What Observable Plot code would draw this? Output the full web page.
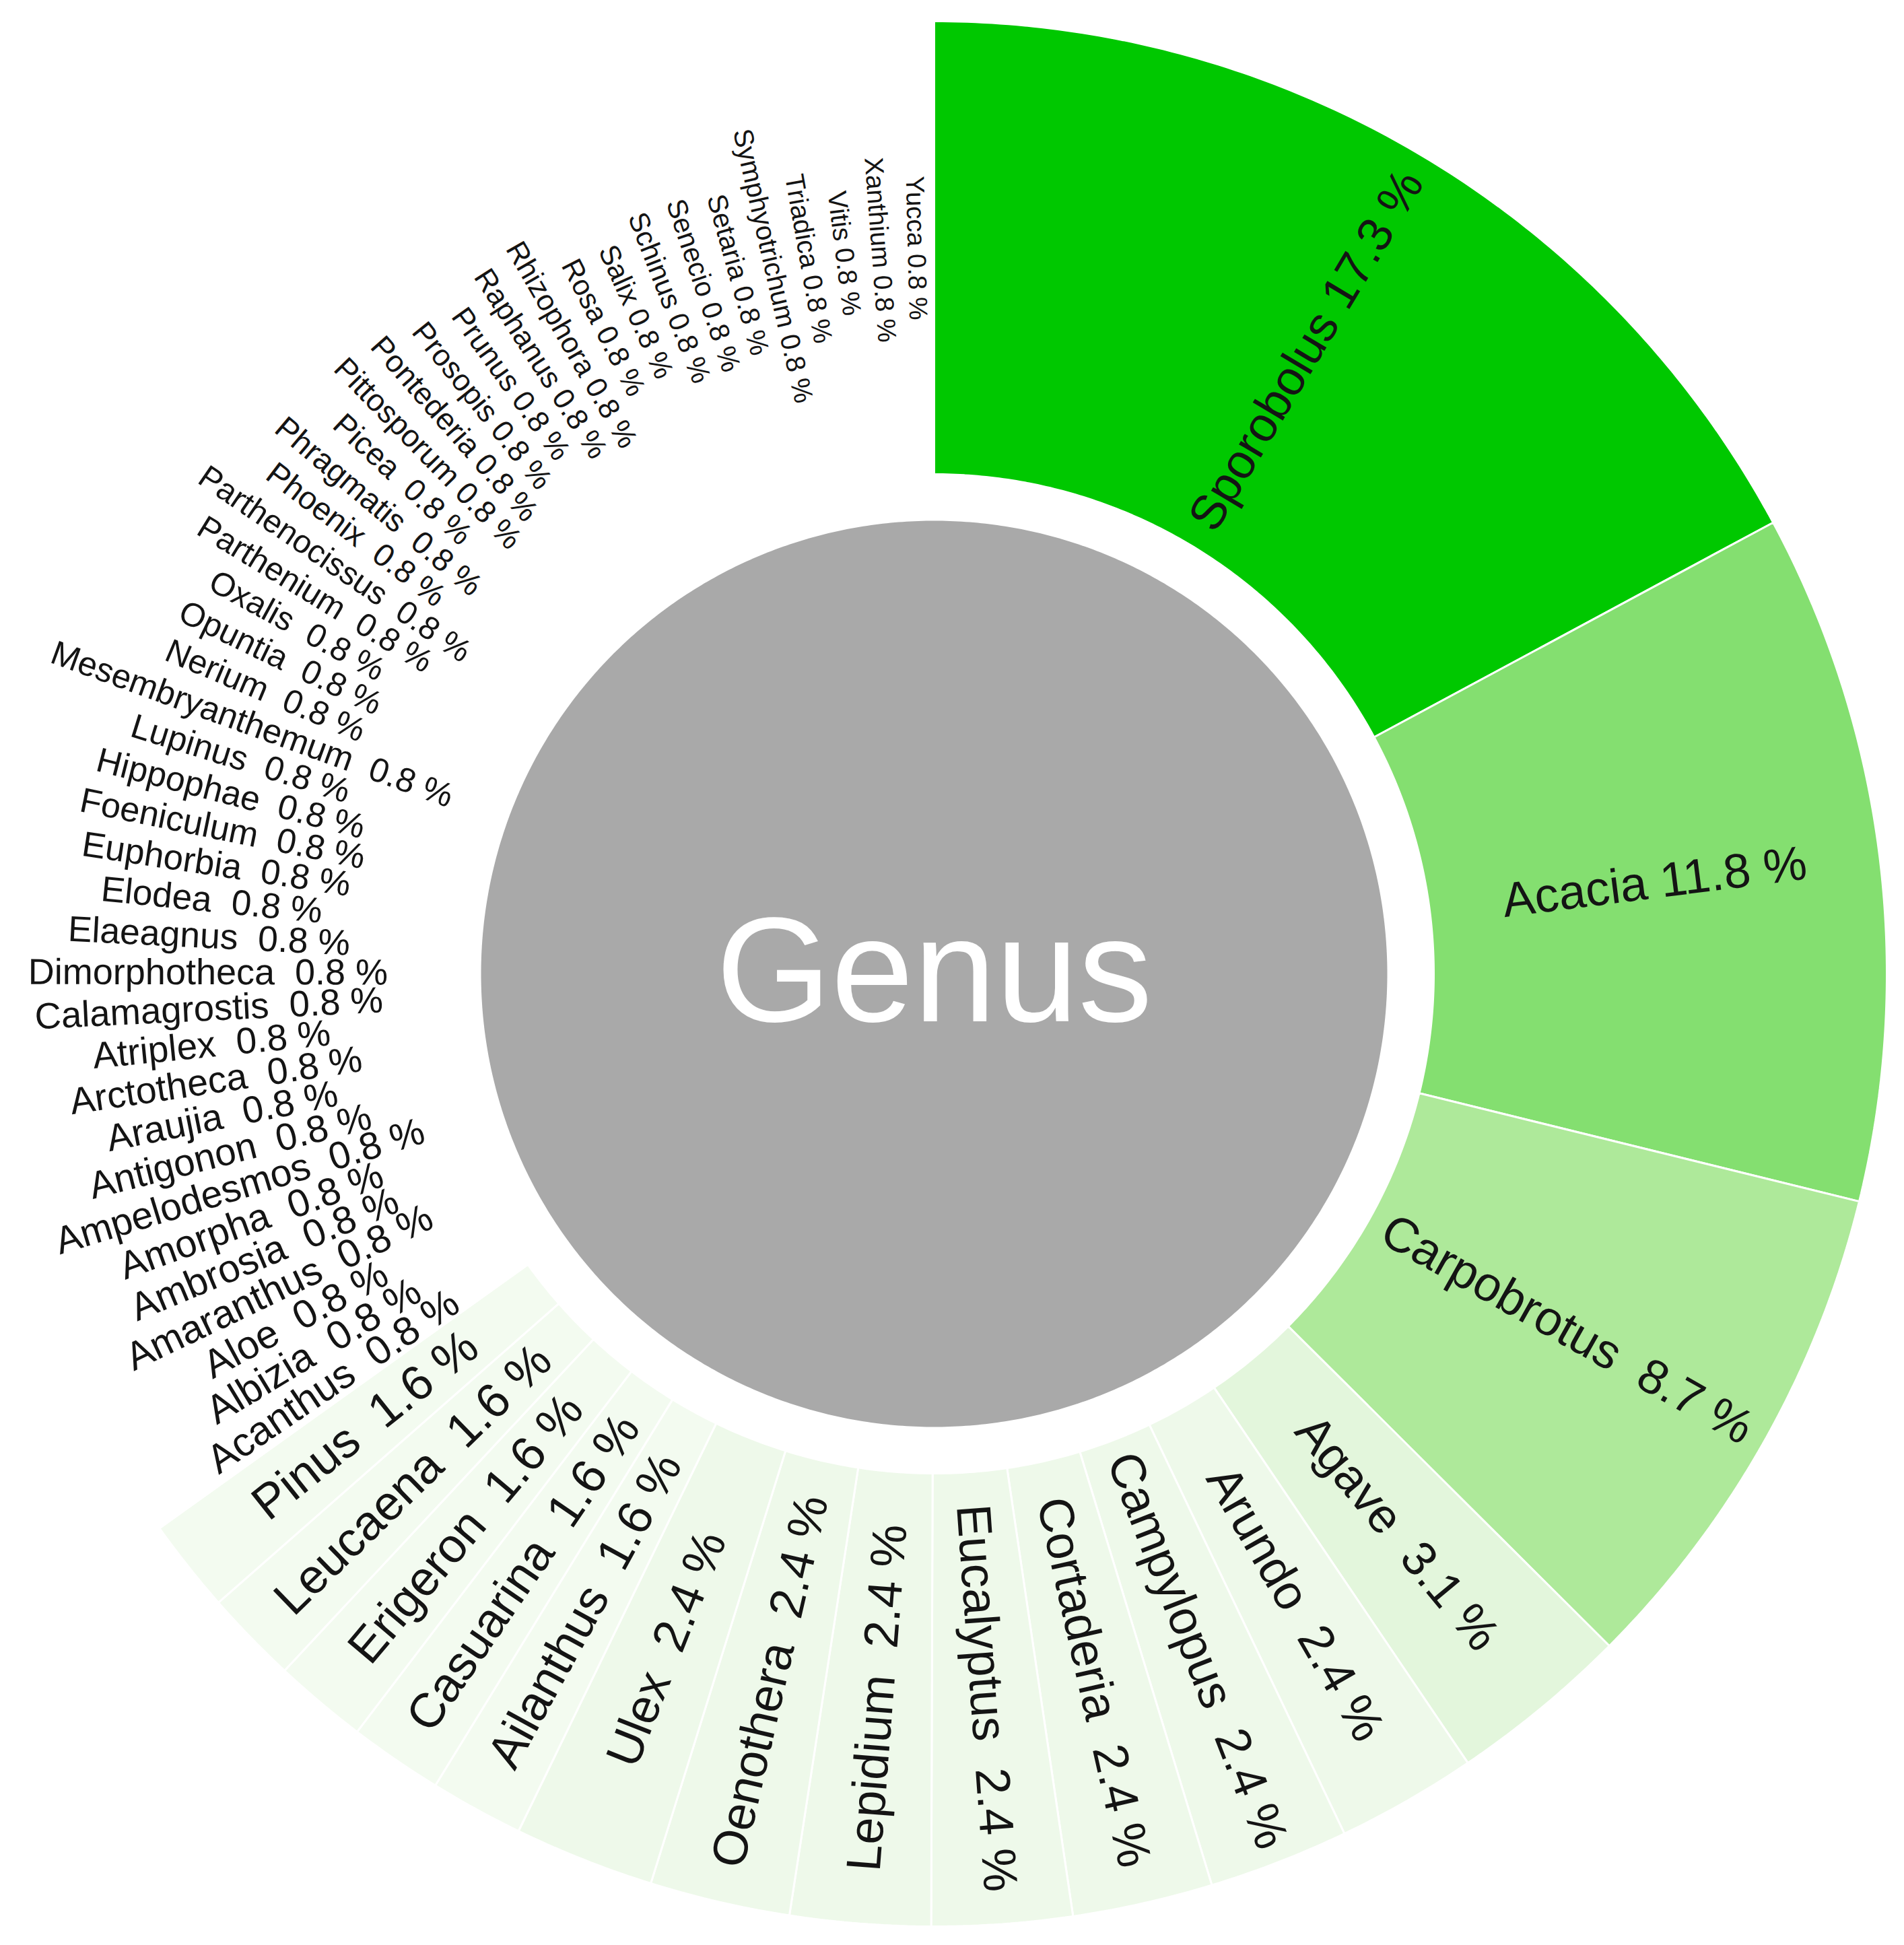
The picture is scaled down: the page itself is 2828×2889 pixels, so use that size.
<!DOCTYPE html>
<html>
<head>
<meta charset="utf-8">
<script src="https://cdn.jsdelivr.net/npm/d3@7"></script>
<script src="https://cdn.jsdelivr.net/npm/@observablehq/plot@0.6"></script>
<style>
html, body { margin: 0; padding: 0; background: #ffffff; }
#chart svg { display: block; }
</style>
</head>
<body>
<div id="chart"></div>
<script>
// ---- data (clockwise from 12 o'clock) ----
const genera = [
  "Sporobolus", "Acacia", "Carpobrotus", "Agave",
  "Arundo", "Campylopus", "Cortaderia", "Eucalyptus", "Lepidium", "Oenothera", "Ulex",
  "Ailanthus", "Casuarina", "Erigeron", "Leucaena", "Pinus",
  "Acanthus", "Albizia", "Aloe", "Amaranthus", "Ambrosia", "Amorpha", "Ampelodesmos",
  "Antigonon", "Araujia", "Arctotheca", "Atriplex", "Calamagrostis", "Dimorphotheca",
  "Elaeagnus", "Elodea", "Euphorbia", "Foeniculum", "Hippophae", "Lupinus",
  "Mesembryanthemum", "Nerium", "Opuntia", "Oxalis", "Parthenium", "Parthenocissus",
  "Phoenix", "Phragmatis", "Picea", "Pittosporum", "Pontederia", "Prosopis", "Prunus",
  "Raphanus", "Rhizophora", "Rosa", "Salix", "Schinus", "Senecio", "Setaria",
  "Symphyotrichum", "Triadica", "Vitis", "Xanthium", "Yucca"
];
const percents = [
  17.3, 11.8, 8.7, 3.1,
  2.4, 2.4, 2.4, 2.4, 2.4, 2.4, 2.4,
  1.6, 1.6, 1.6, 1.6, 1.6,
  0.8, 0.8, 0.8, 0.8, 0.8, 0.8, 0.8,
  0.8, 0.8, 0.8, 0.8, 0.8, 0.8,
  0.8, 0.8, 0.8, 0.8, 0.8, 0.8,
  0.8, 0.8, 0.8, 0.8, 0.8, 0.8,
  0.8, 0.8, 0.8, 0.8, 0.8, 0.8, 0.8,
  0.8, 0.8, 0.8, 0.8, 0.8, 0.8, 0.8,
  0.8, 0.8, 0.8, 0.8, 0.8
];
const centerLabel = "Genus";
const shareLevels = [17.3, 11.8, 8.7, 3.1, 2.4, 1.6, 0.8];
const greens = ["#00c800", "#84df70", "#aee99a", "#e3f6dc", "#eef9ea", "#f3fbf0", "#ffffff"];

// ---- geometry ----
const W = 2828, H = 2889, CX = 1387, CY = 1446;
const R_CENTER = 673, R_IN = 742, R_OUT = 1415;
const R_MID = (R_IN + R_OUT) / 2;

const total = d3.sum(percents);
let acc = 0;
let smallIdx = 0;
const slices = genera.map((g, i) => {
  const a0 = acc / total * 2 * Math.PI;
  acc += percents[i];
  const a1 = acc / total * 2 * Math.PI;
  return {genus: g, value: percents[i], a0, a1, mid: (a0 + a1) / 2, i,
          k: percents[i] < 1 ? smallIdx++ : -1};
});

function ring(s, rIn, rOut) {
  const pts = [];
  const n = Math.max(2, Math.ceil((s.a1 - s.a0) / (Math.PI / 360)));
  for (let j = 0; j <= n; j++) {
    const a = s.a0 + (s.a1 - s.a0) * j / n;
    pts.push({genus: s.genus, value: s.value, x: rOut * Math.sin(a), y: -rOut * Math.cos(a)});
  }
  for (let j = n; j >= 0; j--) {
    const a = s.a0 + (s.a1 - s.a0) * j / n;
    pts.push({genus: s.genus, value: s.value, x: rIn * Math.sin(a), y: -rIn * Math.cos(a)});
  }
  pts.push(pts[0]);
  return pts;
}
const slicePts = slices.flatMap(s => ring(s, R_IN, R_OUT));

const disc = [];
for (let j = 0; j <= 720; j++) {
  const a = j / 720 * 2 * Math.PI;
  disc.push({x: R_CENTER * Math.sin(a), y: -R_CENTER * Math.cos(a)});
}

const deg = r => r * 180 / Math.PI;
const labelRotate = d => {
  const t = deg(d.mid);
  return t < 180 ? t - 90 : t + 90;
};
const labelSize = d => d.value < 1 ? 60 - 0.5 * d.k : 72;
const gap = d => (d.i >= 2 && (d.value > 1 || d.k < 28)) ? "\u00a0 " : " ";
const labelText = d => `${d.genus}${gap(d)}${d.value.toFixed(1)} %`;

const chart = Plot.plot({
  width: W,
  height: H,
  margin: 0,
  x: {domain: [-CX, W - CX], range: [0, W], axis: null},
  y: {domain: [-CY, H - CY], range: [0, H], axis: null},
  color: {type: "ordinal", domain: shareLevels, range: greens},
  style: {fontFamily: "'Liberation Sans', Arial, sans-serif", background: "#ffffff"},
  marks: [
    Plot.line(slicePts, {x: "x", y: "y", z: "genus", fill: "value",
                         stroke: "#ffffff", strokeWidth: 3, strokeLinejoin: "miter"}),
    Plot.line(disc, {x: "x", y: "y", fill: "#a9a9a9", stroke: "none"}),
    Plot.text(slices, {
      x: d => R_MID * Math.sin(d.mid),
      y: d => -R_MID * Math.cos(d.mid),
      text: labelText,
      rotate: labelRotate,
      fontSize: labelSize,
      textAnchor: "middle",
      fill: "#141414"
    }),
    Plot.text([centerLabel], {
      x: () => 0, y: () => 0, text: d => d,
      fontSize: 220, fill: "#ffffff", textAnchor: "middle"
    })
  ]
});
document.getElementById("chart").appendChild(chart);
</script>
</body>
</html>
